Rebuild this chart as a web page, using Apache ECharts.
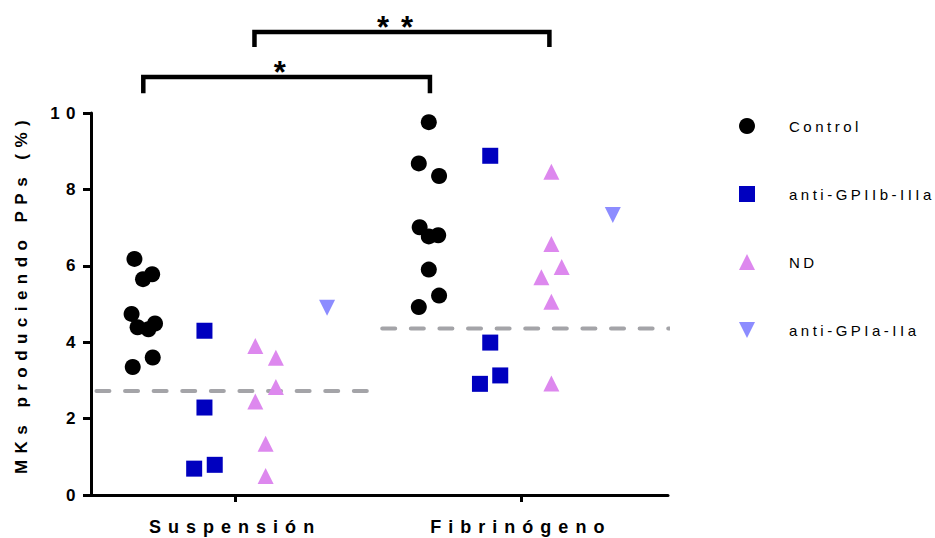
<!DOCTYPE html>
<html>
<head>
<meta charset="utf-8">
<script src="https://cdn.jsdelivr.net/npm/echarts@6/dist/echarts.min.js"></script>
<style>
  html, body { margin: 0; padding: 0; background: #ffffff; }
  #chart { width: 935px; height: 538px; }
  /* wide tracking on the labels, tighter on the legend entries */
  #chart text { letter-spacing: 0.38em; }
  #chart text[style*="18px"] { letter-spacing: 0.39em; }
  #chart text[style*="15px"] { letter-spacing: 3.5px; }
</style>
</head>
<body>
<div id="chart"></div>
<script>
// Group (x axis) labels and series names
const categories = ['Suspensión', 'Fibrinógeno'];
const seriesNames = ['Control', 'anti-GPIIb-IIIa', 'ND', 'anti-GPIa-IIa'];
const yTicks = [0, 2, 4, 6, 8, 10];

// % of MKs producing proplatelets, one array per series and condition
const controlSusp = [6.18, 5.78, 5.65, 4.74, 4.39, 4.34, 4.49, 3.60, 3.35];
const controlFib  = [9.76, 8.68, 8.35, 7.01, 6.77, 6.80, 5.90, 5.22, 4.92];
const gpIIbSusp   = [4.30, 2.29, 0.69, 0.79];
const gpIIbFib    = [8.88, 3.99, 3.13, 2.91];
const ndSusp      = [3.90, 3.59, 2.83, 2.45, 1.34, 0.50];
const ndFib       = [8.46, 6.57, 5.97, 5.70, 5.06, 2.92];
const gpIaSusp    = [4.90];
const gpIaFib     = [7.33];

// Dashed reference level per condition
const referenceLevels = [2.72, 4.36];

// Significance brackets
const sigLabels = ['*', '**'];

// ---- layout (column scatter placement, in x-axis units) ----
const columnOffset = [-0.322, -0.107, 0.107, 0.322];
const jitter = {
  controlSusp: [-0.030, 0.032, 0.000, -0.040, -0.019, 0.019, 0.042, 0.034, -0.036],
  controlFib:  [0.000, -0.035, 0.036, -0.032, 0.000, 0.033, 0.000, 0.036, -0.035],
  gpIIbSusp:   [0.000, 0.000, -0.036, 0.036],
  gpIIbFib:    [0.000, 0.000, 0.035, -0.036],
  ndSusp:      [-0.036, 0.036, 0.036, -0.036, 0.000, 0.000],
  ndFib:       [0.000, 0.000, 0.036, -0.035, 0.000, 0.000],
  gpIaSusp:    [0.000],
  gpIaFib:     [0.000]
};
const referenceSpan = [[-0.485, 0.47], [-0.485, 0.52]];
// bracket ends (x units) and heights (y units): [x1, x2, yLine, yLeg]
const bracketGeom = [[0.679, 1.682, 10.94, 10.52], [1.068, 2.10, 12.12, 11.73]];

const FONT = "'Liberation Sans', Arial, Helvetica, sans-serif";

function columnPoints(values, jit, group, col) {
  return values.map((v, i) => [group + 1 + columnOffset[col] + jit[i], v]);
}

const colors = ['#000000', '#0000bf', '#dd88ee', '#8c8cff'];
const symbols = ['circle', 'rect', 'triangle', 'path://M0,0 L10,0 L5,10 Z'];

const scatterData = [
  columnPoints(controlSusp, jitter.controlSusp, 0, 0).concat(columnPoints(controlFib, jitter.controlFib, 1, 0)),
  columnPoints(gpIIbSusp, jitter.gpIIbSusp, 0, 1).concat(columnPoints(gpIIbFib, jitter.gpIIbFib, 1, 1)),
  columnPoints(ndSusp, jitter.ndSusp, 0, 2).concat(columnPoints(ndFib, jitter.ndFib, 1, 2)),
  columnPoints(gpIaSusp, jitter.gpIaSusp, 0, 3).concat(columnPoints(gpIaFib, jitter.gpIaFib, 1, 3))
];

const series = [];

// dashed reference lines, drawn beneath the markers
referenceLevels.forEach((lvl, g) => {
  series.push({
    type: 'line',
    silent: true,
    symbol: 'none',
    z: 1,
    data: [[g + 1 + referenceSpan[g][0], lvl], [g + 1 + referenceSpan[g][1], lvl]],
    lineStyle: { color: '#a4a4a8', width: 4, type: [13, 15.6], cap: 'round' }
  });
});

seriesNames.forEach((name, k) => {
  series.push({
    name: name,
    type: 'scatter',
    z: 3,
    symbol: symbols[k],
    symbolSize: 16,
    itemStyle: { color: colors[k], opacity: 1 },
    data: scatterData[k]
  });
});

// significance brackets above the plot area
series.push({
  type: 'custom',
  silent: true,
  z: 4,
  clip: false,
  data: bracketGeom.map((b, i) => b.concat([i])),
  renderItem: function (params, api) {
    const x1 = api.value(0), x2 = api.value(1), yl = api.value(2), yg = api.value(3);
    const idx = api.value(4);
    const pA = api.coord([x1, yg]), pB = api.coord([x1, yl]);
    const pC = api.coord([x2, yl]), pD = api.coord([x2, yg]);
    return {
      type: 'group',
      children: [
        {
          type: 'polyline',
          shape: { points: [pA, pB, pC, pD] },
          style: { stroke: '#000', lineWidth: 4.5, fill: null, lineJoin: 'miter', lineCap: 'butt' }
        },
        {
          type: 'text',
          style: {
            text: sigLabels[idx],
            x: (pB[0] + pC[0]) / 2 - 1,
            y: pB[1] + 11,
            align: 'center',
            verticalAlign: 'bottom',
            font: 'bold 31px ' + FONT,
            fill: '#000'
          }
        }
      ]
    };
  }
});

const chart = echarts.init(document.getElementById('chart'), null, { renderer: 'svg' });
chart.setOption({
  animation: false,
  backgroundColor: '#ffffff',
  textStyle: { fontFamily: FONT },
  grid: { left: 91, right: 267, top: 113, bottom: 43, containLabel: false },
  legend: {
    orient: 'vertical',
    left: 734,
    top: 113,
    itemWidth: 16,
    itemHeight: 16,
    itemGap: 52,
    data: seriesNames,
    selectedMode: false,
    textStyle: { fontSize: 15, color: '#000', fontFamily: FONT, padding: [0, 0, 0, 29] }
  },
  xAxis: {
    type: 'value',
    min: 0.496,
    max: 2.515,
    splitLine: { show: false },
    axisLine: { show: true, onZero: false, lineStyle: { color: '#000', width: 3 } },
    axisTick: { show: true, customValues: [1, 2], length: 7, lineStyle: { color: '#000', width: 3 } },
    axisLabel: {
      customValues: [1, 2],
      formatter: v => categories[Math.round(v) - 1],
      color: '#000', fontWeight: 'bold', fontSize: 18, margin: 23, fontFamily: FONT
    }
  },
  yAxis: {
    type: 'value',
    min: yTicks[0],
    max: yTicks[yTicks.length - 1],
    interval: 2,
    name: 'MKs produciendo PPs (%)',
    nameLocation: 'middle',
    nameGap: 61,
    nameTextStyle: { color: '#000', fontWeight: 'bold', fontSize: 17, fontFamily: FONT, padding: [0, 0, 0, 20] },
    splitLine: { show: false },
    axisLine: { show: true, onZero: false, lineStyle: { color: '#000', width: 3 } },
    axisTick: { show: true, length: 8, lineStyle: { color: '#000', width: 3 } },
    axisLabel: { color: '#000', fontWeight: 'bold', fontSize: 17, margin: 9, fontFamily: FONT }
  },
  series: series
});
</script>
</body>
</html>
